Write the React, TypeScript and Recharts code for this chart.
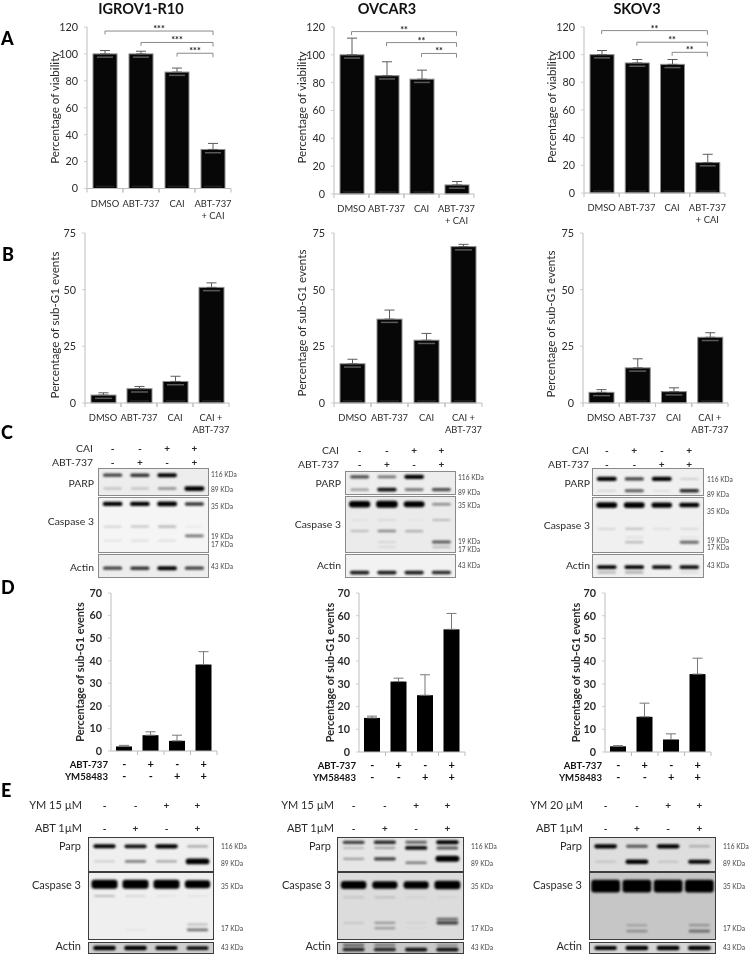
import React from 'react';
import { BarChart, Bar, XAxis, YAxis, ErrorBar, ReferenceLine, ScatterChart, Scatter } from 'recharts';

const FONT = 'Lato, "Open Sans", sans-serif';
const INK = '#2b2b2b';

// ---------- bar data ----------
const catsA = ['DMSO', 'ABT-737', 'CAI', 'ABT-737\n+ CAI'];
const catsB = ['DMSO', 'ABT-737', 'CAI', 'CAI +\nABT-737'];
const catsD = ['a', 'b', 'c', 'd'];
const rowAbt = ['-', '+', '-', '+'];
const rowYm = ['-', '-', '+', '+'];

const viabIgrov = [100, 100, 86.5, 29];
const viabIgrovErr = [2.5, 2, 3, 4.5];
const viabOvcar = [100, 85, 82.5, 6.5];
const viabOvcarErr = [12, 10, 6.5, 2.5];
const viabSkov = [100, 94, 93, 22];
const viabSkovErr = [3, 2.5, 3.5, 6];

const subIgrov = [3.5, 6.3, 9.5, 51];
const subIgrovErr = [1, 1, 2.3, 2];
const subOvcar = [17.3, 37, 27.7, 69];
const subOvcarErr = [2, 4, 3, 1];
const subSkov = [4.7, 15.5, 5, 29];
const subSkovErr = [1.2, 4, 1.7, 2];

const ymIgrov = [2, 7, 4.5, 38.3];
const ymIgrovErr = [0.5, 1.5, 2.5, 5.7];
const ymOvcar = [15, 31, 25, 54];
const ymOvcarErr = [0.8, 1.5, 9, 7];
const ymSkov = [2.5, 15.5, 5.5, 34.3];
const ymSkovErr = [0.3, 6, 2.5, 7];

const brIgrov = [{ from: 0, level: 117, stars: '***' }, { from: 1, level: 108.5, stars: '***' }, { from: 2, level: 100.5, stars: '***' }];
const brOvcar = [{ from: 0, level: 116.7, stars: '**' }, { from: 1, level: 108.8, stars: '**' }, { from: 2, level: 101, stars: '**' }];
const brSkov = [{ from: 0, level: 117.4, stars: '**' }, { from: 1, level: 109, stars: '**' }, { from: 2, level: 101.7, stars: '**' }];

const ticksA = [0, 20, 40, 60, 80, 100, 120];
const ticksB = [0, 25, 50, 75];
const ticksD = [0, 10, 20, 30, 40, 50, 60, 70];

// ---------- blot data: band position (fraction of strip height) and signal per lane ----------
const parpC1 = [{ pos: 0.24, v: [0.7, 0.75, 0.95, 0] }, { pos: 0.75, v: [0.2, 0.2, 0.4, 1.3] }];
const casC1 = [{ pos: 0.11, v: [1.1, 1.1, 1.3, 0.75] }, { pos: 0.53, v: [0.15, 0.2, 0.25, 0.05] }, { pos: 0.7, v: [0, 0, 0, 0.5] }, { pos: 0.79, v: [0.08, 0.1, 0.1, 0] }];
const actC1 = [{ pos: 0.6, v: [0.7, 0.75, 1, 0.7] }];
const parpC2 = [{ pos: 0.22, v: [0.65, 0.5, 1.1, 0] }, { pos: 0.8, v: [0.35, 0.9, 0.5, 0.65] }];
const casC2 = [{ pos: 0.13, v: [2, 2.2, 1.8, 0.4] }, { pos: 0.42, v: [0.05, 0.08, 0.03, 0.2] }, { pos: 0.62, v: [0.2, 0.4, 0.25, 0] }, { pos: 0.82, v: [0, 0.1, 0, 0.6] }, { pos: 0.91, v: [0, 0.08, 0, 0.2] }];
const actC2 = [{ pos: 0.8, v: [0.85, 0.85, 0.85, 0.8] }];
const parpC3 = [{ pos: 0.38, v: [1.1, 0.7, 1.1, 0.15] }, { pos: 0.84, v: [0.12, 0.6, 0.08, 0.8] }];
const casC3 = [{ pos: 0.13, v: [1.7, 1.7, 1.5, 1.2] }, { pos: 0.57, v: [0.12, 0.2, 0.08, 0.1] }, { pos: 0.73, v: [0, 0.08, 0, 0.05] }, { pos: 0.82, v: [0, 0.25, 0, 0.55] }];
const actC3 = [{ pos: 0.55, v: [0.95, 0.95, 0.9, 0.9] }, { pos: 0.79, v: [0.25, 0.3, 0, 0.1] }];

const parpE1 = [{ pos: 0.25, v: [0.95, 0.9, 1.1, 0.3] }, { pos: 0.71, v: [0.15, 0.45, 0.3, 1.7] }];
const casE1 = [{ pos: 0.17, v: [3, 3, 3, 2.6] }, { pos: 0.35, v: [0.2, 0.1, 0.05, 0.05] }, { pos: 0.78, v: [0, 0, 0, 0.2] }, { pos: 0.86, v: [0, 0.05, 0, 0.5] }];
const actE1 = [{ pos: 0.5, v: [1.2, 1.2, 1, 0.9] }];
const parpE2 = [{ pos: 0.13, v: [0.7, 0.8, 0.55, 1] }, { pos: 0.3, v: [0.2, 0.3, 0.9, 0.6] }, { pos: 0.63, v: [0.3, 0.7, 0, 1.8] }, { pos: 0.75, v: [0, 0, 0.45, 0] }];
const casE2 = [{ pos: 0.18, v: [2.6, 2.4, 2.4, 2.8] }, { pos: 0.37, v: [0.12, 0.15, 0.05, 0.05] }, { pos: 0.7, v: [0, 0, 0, 0.5] }, { pos: 0.755, v: [0.1, 0.3, 0.05, 0.7] }, { pos: 0.835, v: [0, 0.3, 0.03, 0] }];
const actE2 = [{ pos: 0.2, v: [0.5, 0.4, 0, 0.3] }, { pos: 0.65, v: [0.8, 0.8, 0.9, 0.9] }];
const parpE3 = [{ pos: 0.25, v: [1.1, 0.6, 1.1, 0.25] }, { pos: 0.72, v: [0.12, 1.2, 0.12, 1] }];
const casE3 = [{ pos: 0.2, v: [4.5, 4.5, 4.5, 4.5] }, { pos: 0.79, v: [0, 0.2, 0, 0.25] }, { pos: 0.88, v: [0, 0.3, 0, 0.45] }];
const actE3 = [{ pos: 0.5, v: [1, 1.2, 1.2, 1.2] }];

const signsNeg = ['-', '-', '+', '+'];
const signsAlt = ['-', '+', '-', '+'];

// ---------- drawing helpers ----------
const GlossBar = (p: any) => {
  const { x, y, width, height } = p;
  return (
    <g>
      <rect x={x} y={y} width={width} height={height} fill="#070707" stroke="#8d8d8d" strokeWidth={1} />
      {height > 6 && <rect x={x + 4} y={y + 2.5} width={width - 8} height={1.5} fill="#5a5a5a" />}
      {height > 12 && <rect x={x + 3} y={y + height - 3} width={width - 6} height={2} fill="#1d1d1d" />}
    </g>
  );
};
const PlainBar = (p: any) => <rect x={p.x} y={p.y} width={p.width} height={p.height} fill="#000" />;

function CatTick(props: any) {
  const { x, y, payload, band, dy } = props;
  const lines = String(payload.value).split('\n');
  return (
    <g>
      <line x1={x + band / 2} x2={x + band / 2} y1={y - 8} y2={y - 4} stroke="#bdbdbd" />
      <line x1={x - band / 2} x2={x - band / 2} y1={y - 8} y2={y - 4} stroke="#bdbdbd" />
      {lines.map((l: string, i: number) => (
        <text key={i} x={x} y={y + dy + i * 12} textAnchor="middle" fontFamily={FONT} fontSize={9.4} fill={INK}>{l}</text>
      ))}
    </g>
  );
}

function SignTick(props: any) {
  const { x, y, index, band } = props;
  const mk = (s: string, yy: number) => (
    <text x={x} y={yy} textAnchor="middle" fontFamily={FONT} fontSize={11} fontWeight={700} fill="#111">{s}</text>
  );
  return (
    <g>
      <line x1={x + band / 2} x2={x + band / 2} y1={y - 8} y2={y - 4} stroke="#bdbdbd" />
      {mk(rowAbt[index], y + 9)}
      {mk(rowYm[index], y + 21)}
      {index === 0 && (
        <g fontFamily={FONT} fontSize={9.6} fontWeight={700} fill="#111">
          <text x={x - band / 2 - 3} y={y + 9} textAnchor="end">ABT-737</text>
          <text x={x - band / 2 - 3} y={y + 21} textAnchor="end">YM58483</text>
        </g>
      )}
    </g>
  );
}

type PanelProps = {
  axisX: number; top: number; plotW: number; plotH: number; cats: string[]; values: number[]; errs: number[];
  max: number; ticks: number[]; title: string; titleX: number; barSize: number; brackets?: any[]; kind: 'gloss' | 'plain'; labelDy?: number; titleDy?: number;
};

function BarPanel(c: PanelProps) {
  const AX = 50;
  const xh = 40;
  const rows = c.cats.map((name, i) => ({ name, value: c.values[i], err: [0, c.errs[i]] }));
  const band = c.plotW / c.cats.length;
  const bold = c.kind === 'plain';
  const Tick = (p: any) => (c.kind === 'gloss'
    ? <CatTick {...p} band={band} dy={c.labelDy ?? 10} />
    : <SignTick {...p} band={band} />);
  return (
    <div style={{ position: 'absolute', left: c.axisX - AX, top: c.top - 10 }}>
      <BarChart width={AX + c.plotW + 2} height={10 + c.plotH + xh} data={rows} margin={{ top: 10, right: 2, left: 0, bottom: 0 }}>
        <XAxis dataKey="name" height={xh} interval={0} tickLine={false} axisLine={{ stroke: '#bdbdbd' }} tick={Tick} />
        <YAxis
          width={AX}
          type="number"
          domain={[0, c.max]}
          ticks={c.ticks}
          interval={0}
          tickSize={3}
          tickMargin={6}
          tickLine={{ stroke: '#cfcfcf' }}
          axisLine={{ stroke: '#bdbdbd' }}
          tick={{ fontFamily: FONT, fontSize: 10.8, fill: INK, fontWeight: bold ? 700 : 400 }}
          label={{
            value: c.title,
            angle: -90,
            position: 'insideLeft',
            offset: c.titleX,
            dy: c.titleDy ?? 0,
            style: { fontFamily: FONT, fontSize: bold ? 10.9 : 11.6, fontWeight: bold ? 700 : 400, fill: INK, textAnchor: 'middle' },
          }}
        />
        <Bar dataKey="value" barSize={c.barSize} isAnimationActive={false} shape={c.kind === 'gloss' ? GlossBar : PlainBar}>
          <ErrorBar dataKey="err" direction="y" width={5} stroke={c.kind === 'gloss' ? '#5c5c5c' : '#777'} strokeWidth={1} isAnimationActive={false} />
        </Bar>
        {(c.brackets ?? []).flatMap((b, i) => {
          const a = c.cats[b.from];
          const z = c.cats[3];
          const s = { stroke: '#8a8a8a', strokeWidth: 1 };
          return [
            <ReferenceLine key={`h${i}`} ifOverflow="visible" {...s} segment={[{ x: a, y: b.level }, { x: z, y: b.level }]}
              label={{ value: b.stars, position: 'top', offset: -1, fontFamily: FONT, fontSize: 9, fontWeight: 700, fill: '#222' }} />,
            <ReferenceLine key={`l${i}`} ifOverflow="visible" {...s} segment={[{ x: a, y: b.level }, { x: a, y: b.level - 2.5 }]} />,
            <ReferenceLine key={`r${i}`} ifOverflow="visible" {...s} segment={[{ x: z, y: b.level }, { x: z, y: b.level - 3 }]} />,
          ];
        })}
      </BarChart>
    </div>
  );
}

const BandShape = (p: any, laneW: number) => {
  const v = p.payload.v;
  const h = 1.5 + 2.5 * v;
  const w = laneW * Math.min(0.92, 0.66 + 0.06 * v);
  return (
    <rect x={p.cx - w / 2} y={p.cy - h / 2} width={w} height={h} rx={Math.min(h / 2, 3)} fill="#000"
      opacity={Math.min(1, v * 1.05)} style={{ filter: 'blur(0.9px)' }} />
  );
};

function Strip({ x, y, w, h, rows, bg, border }: any) {
  const pts = rows.flatMap((r: any) => r.v.map((v: number, i: number) => ({ lane: i + 0.5, pos: r.pos, v })).filter((d: any) => d.v > 0));
  const laneW = w / 4;
  return (
    <div style={{ position: 'absolute', left: x, top: y, width: w, height: h, background: bg, outline: border, outlineOffset: 0, overflow: 'hidden' }}>
      <ScatterChart width={w} height={h} margin={{ top: 0, right: 0, bottom: 0, left: 0 }}>
        <XAxis type="number" dataKey="lane" domain={[0, 4]} hide />
        <YAxis type="number" dataKey="pos" domain={[0, 1]} reversed hide />
        <Scatter data={pts} isAnimationActive={false} shape={(p: any) => BandShape(p, laneW)} />
      </ScatterChart>
    </div>
  );
}

const TXT = (p: any) => <text fontFamily={FONT} fill={INK} {...p} />;

type BlotProps = {
  x: number; w: number; strips: { y: number; h: number; rows: any[]; label: string; labelY: number; bg?: string }[];
  labelX: number; signs: { name: string; y: number; marks: string[] }[]; signX: number; kda: { t: string; y: number }[]; kdaX: number; border: string; bg: string; fs: number;
};

function Blot(b: BlotProps) {
  return (
    <>
      {b.strips.map((s, i) => (
        <Strip key={i} x={b.x} y={s.y} w={b.w} h={s.h} rows={s.rows} bg={s.bg ?? b.bg} border={b.border} />
      ))}
      <svg width={752} height={954} style={{ position: 'absolute', left: 0, top: 0, pointerEvents: 'none' }}>
        {b.strips.map((s, i) => <TXT key={i} x={b.labelX} y={s.labelY} textAnchor="end" fontSize={b.fs}>{s.label}</TXT>)}
        {b.signs.map((r, i) => (
          <g key={i}>
            <TXT x={b.signX} y={r.y} textAnchor="end" fontSize={b.fs}>{r.name}</TXT>
            {r.marks.map((m, j) => (
              <TXT key={j} x={b.x + ((j + 0.5) * b.w) / 4} y={r.y} textAnchor="middle" fontSize={10} fontWeight={700}>{m}</TXT>
            ))}
          </g>
        ))}
        {b.kda.map((k, i) => <TXT key={i} x={b.kdaX} y={k.y} fontSize={6.6} fill="#444">{k.t}</TXT>)}
      </svg>
    </>
  );
}

const VIAB = 'Percentage of viability';
const SUB = 'Percentage of sub-G1 events';
const C_BORDER = '1px solid #8a8a8a';
const E_BORDER = '1.5px solid #3c3c3c';

export default function App() {
  return (
    <div style={{ position: 'absolute', left: 0, top: 0, width: 752, height: 954, background: '#fff', overflow: 'hidden', filter: 'blur(0.3px)' }}>
      <svg width={752} height={954} style={{ position: 'absolute', left: 0, top: 0 }}>
        <g fontFamily={FONT} fontWeight={700} fill="#111" fontSize={14.5} textAnchor="middle">
          <text x={141} y={14}>IGROV1-R10</text>
          <text x={387} y={14}>OVCAR3</text>
          <text x={637} y={14}>SKOV3</text>
        </g>
        <g fontFamily={FONT} fontWeight={900} fill="#000" fontSize={18}>
          <text x={1} y={45}>A</text>
          <text x={2} y={261}>B</text>
          <text x={1} y={439}>C</text>
          <text x={1} y={594}>D</text>
          <text x={1} y={797}>E</text>
        </g>
      </svg>

      <BarPanel axisX={87} top={27} plotW={144} plotH={161.5} cats={catsA} values={viabIgrov} errs={viabIgrovErr} max={120} ticks={ticksA} title={VIAB} titleX={18} barSize={24} brackets={brIgrov} kind="gloss" />
      <BarPanel axisX={334} top={27} plotW={140} plotH={167} cats={catsA} values={viabOvcar} errs={viabOvcarErr} max={120} ticks={ticksA} title={VIAB} titleX={18} barSize={24} brackets={brOvcar} kind="gloss" titleDy={-3} />
      <BarPanel axisX={584} top={27} plotW={141} plotH={166} cats={catsA} values={viabSkov} errs={viabSkovErr} max={120} ticks={ticksA} title={VIAB} titleX={18} barSize={24} brackets={brSkov} kind="gloss" titleDy={-3} />

      <BarPanel axisX={85} top={233} plotW={144} plotH={170} cats={catsB} values={subIgrov} errs={subIgrovErr} max={75} ticks={ticksB} title={SUB} titleX={20} barSize={25} kind="gloss" labelDy={10} titleDy={7} />
      <BarPanel axisX={334} top={233} plotW={148} plotH={170} cats={catsB} values={subOvcar} errs={subOvcarErr} max={75} ticks={ticksB} title={SUB} titleX={18} barSize={25} kind="gloss" labelDy={10} titleDy={5} />
      <BarPanel axisX={583} top={233} plotW={145} plotH={170} cats={catsB} values={subSkov} errs={subSkovErr} max={75} ticks={ticksB} title={SUB} titleX={18} barSize={25} kind="gloss" labelDy={10} titleDy={6} />

      <BarPanel axisX={111} top={593} plotW={106} plotH={158} cats={catsD} values={ymIgrov} errs={ymIgrovErr} max={70} ticks={ticksD} title={SUB} titleX={19} barSize={16} kind="plain" />
      <BarPanel axisX={359} top={593} plotW={106} plotH={159} cats={catsD} values={ymOvcar} errs={ymOvcarErr} max={70} ticks={ticksD} title={SUB} titleX={21} barSize={16} kind="plain" />
      <BarPanel axisX={605} top={593} plotW={106} plotH={159} cats={catsD} values={ymSkov} errs={ymSkovErr} max={70} ticks={ticksD} title={SUB} titleX={21} barSize={16} kind="plain" />

      <Blot x={99} w={109} fs={10.4} bg="#ededed" border={C_BORDER} labelX={94} signX={93} kdaX={211}
        signs={[{ name: 'CAI', y: 452, marks: signsNeg }, { name: 'ABT-737', y: 466, marks: signsAlt }]}
        strips={[
          { y: 469, h: 26, rows: parpC1, label: 'PARP', labelY: 487 },
          { y: 498, h: 54, rows: casC1, label: 'Caspase 3', labelY: 525, bg: '#f5f5f5' },
          { y: 555, h: 22, rows: actC1, label: 'Actin', labelY: 571 },
        ]}
        kda={[{ t: '116 KDa', y: 477 }, { t: '89 KDa', y: 492 }, { t: '35 KDa', y: 509 }, { t: '19 KDa', y: 539 }, { t: '17 KDa', y: 547 }, { t: '43 KDa', y: 569 }]} />
      <Blot x={346} w={109} fs={10.4} bg="#ededed" border={C_BORDER} labelX={341} signX={339} kdaX={458}
        signs={[{ name: 'CAI', y: 454, marks: signsNeg }, { name: 'ABT-737', y: 468, marks: signsAlt }]}
        strips={[
          { y: 472, h: 22, rows: parpC2, label: 'PARP', labelY: 487 },
          { y: 497, h: 55, rows: casC2, label: 'Caspase 3', labelY: 528, bg: '#ebebeb' },
          { y: 555, h: 22, rows: actC2, label: 'Actin', labelY: 569, bg: '#f2f2f2' },
        ]}
        kda={[{ t: '116 KDa', y: 480 }, { t: '89 KDa', y: 495 }, { t: '35 KDa', y: 508 }, { t: '19 KDa', y: 544 }, { t: '17 KDa', y: 552 }, { t: '43 KDa', y: 568 }]} />
      <Blot x={593} w={110} fs={10.4} bg="#f0f0f0" border={C_BORDER} labelX={590} signX={589} kdaX={707}
        signs={[{ name: 'CAI', y: 454, marks: signsAlt }, { name: 'ABT-737', y: 468, marks: signsNeg }]}
        strips={[
          { y: 469, h: 26, rows: parpC3, label: 'PARP', labelY: 487 },
          { y: 498, h: 54, rows: casC3, label: 'Caspase 3', labelY: 529 },
          { y: 555, h: 22, rows: actC3, label: 'Actin', labelY: 569 },
        ]}
        kda={[{ t: '116 KDa', y: 482 }, { t: '89 KDa', y: 497 }, { t: '35 KDa', y: 514 }, { t: '19 KDa', y: 543 }, { t: '17 KDa', y: 550 }, { t: '43 KDa', y: 568 }]} />

      <Blot x={89} w={124} fs={11} bg="#efefef" border={E_BORDER} labelX={81} signX={82} kdaX={221}
        signs={[{ name: 'YM 15 µM', y: 809, marks: signsNeg }, { name: 'ABT 1µM', y: 832, marks: signsAlt }]}
        strips={[
          { y: 838, h: 33, rows: parpE1, label: 'Parp', labelY: 850 },
          { y: 873, h: 66, rows: casE1, label: 'Caspase 3', labelY: 889 },
          { y: 943, h: 10, rows: actE1, label: 'Actin', labelY: 950, bg: '#cfcfcf' },
        ]}
        kda={[{ t: '116 KDa', y: 849 }, { t: '89 KDa', y: 866 }, { t: '35 KDa', y: 889 }, { t: '17 KDa', y: 931 }, { t: '43 KDa', y: 950 }]} />
      <Blot x={338} w={125} fs={11} bg="#e6e6e6" border={E_BORDER} labelX={331} signX={334} kdaX={471}
        signs={[{ name: 'YM 15 µM', y: 809, marks: signsNeg }, { name: 'ABT 1µM', y: 832, marks: signsAlt }]}
        strips={[
          { y: 838, h: 33, rows: parpE2, label: 'Parp', labelY: 850 },
          { y: 873, h: 66, rows: casE2, label: 'Caspase 3', labelY: 889, bg: '#dcdcdc' },
          { y: 943, h: 10, rows: actE2, label: 'Actin', labelY: 950, bg: '#c8c8c8' },
        ]}
        kda={[{ t: '116 KDa', y: 849 }, { t: '89 KDa', y: 866 }, { t: '35 KDa', y: 889 }, { t: '17 KDa', y: 931 }, { t: '43 KDa', y: 950 }]} />
      <Blot x={590} w={125} fs={11} bg="#dedede" border={E_BORDER} labelX={582} signX={583} kdaX={723}
        signs={[{ name: 'YM 20 µM', y: 809, marks: signsNeg }, { name: 'ABT 1µM', y: 832, marks: signsAlt }]}
        strips={[
          { y: 838, h: 33, rows: parpE3, label: 'Parp', labelY: 850 },
          { y: 873, h: 66, rows: casE3, label: 'Caspase 3', labelY: 889, bg: '#c6c6c6' },
          { y: 943, h: 10, rows: actE3, label: 'Actin', labelY: 950, bg: '#d6d6d6' },
        ]}
        kda={[{ t: '116 KDa', y: 849 }, { t: '89 KDa', y: 866 }, { t: '35 KDa', y: 889 }, { t: '17 KDa', y: 931 }, { t: '43 KDa', y: 950 }]} />
    </div>
  );
}
